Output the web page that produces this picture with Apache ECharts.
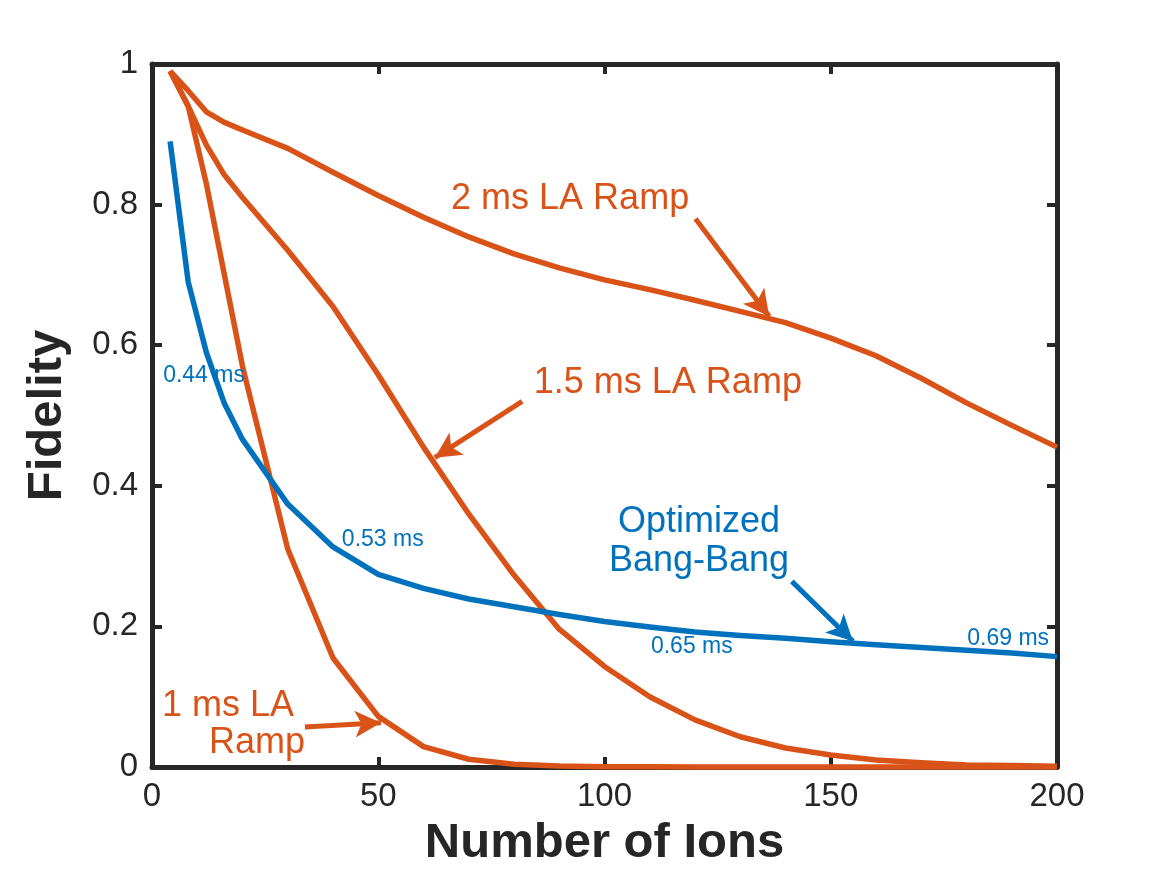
<!DOCTYPE html>
<html>
<head>
<meta charset="utf-8">
<title>Fidelity vs Number of Ions</title>
<script src="https://cdn.jsdelivr.net/npm/echarts@6/dist/echarts.min.js"></script>
<style>
  html, body { margin: 0; padding: 0; background: #fff; }
  #chart { width: 1167px; height: 875px; }
</style>
</head>
<body>
<div id="chart"></div>
<script>
// number of ions (x values shared by every curve)
const ions = [4, 8, 12, 16, 20, 30, 40, 50, 60, 70, 80, 90, 100, 110, 120, 130, 140, 150, 160, 170, 180, 190, 200];

// fidelity
const ramp2ms = [0.99, 0.962, 0.932, 0.917, 0.906, 0.880, 0.846, 0.813, 0.782, 0.754, 0.730, 0.710, 0.693, 0.679, 0.664, 0.648, 0.632, 0.610, 0.585, 0.553, 0.518, 0.486, 0.455];
const ramp15ms = [0.99, 0.94, 0.885, 0.842, 0.810, 0.735, 0.655, 0.558, 0.455, 0.360, 0.273, 0.196, 0.143, 0.100, 0.067, 0.043, 0.027, 0.017, 0.010, 0.006, 0.003, 0.002, 0.001];
const ramp1ms = [0.99, 0.94, 0.83, 0.70, 0.57, 0.31, 0.155, 0.072, 0.029, 0.011, 0.004, 0.0015, 0.0005, 0.0002, 0.0001, 0, 0, 0, 0, 0, 0, 0, 0];
const bangBang = [0.89, 0.69, 0.59, 0.517, 0.466, 0.374, 0.313, 0.274, 0.254, 0.239, 0.228, 0.217, 0.207, 0.199, 0.192, 0.187, 0.183, 0.178, 0.174, 0.170, 0.166, 0.162, 0.157];

const xTicks = [0, 50, 100, 150, 200];
const yTicks = [0, 0.2, 0.4, 0.6, 0.8, 1];

const ORANGE = '#D95319';
const BLUE = '#0072BD';
const AXIS = '#262626';
const FONT = '"Liberation Sans", Arial, Helvetica, sans-serif';

// annotation text, placed in data coordinates
const notes = [
  { text: '2 ms LA Ramp', at: [92.4, 0.808], color: ORANGE, size: 36 },
  { text: '1.5 ms LA Ramp', at: [114.0, 0.546], color: ORANGE, size: 36 },
  { text: 'Optimized\nBang-Bang', at: [120.9, 0.320], color: BLUE, size: 36 },
  { text: '1 ms LA', at: [16.8, 0.086], color: ORANGE, size: 36 },
  { text: 'Ramp', at: [23.2, 0.034], color: ORANGE, size: 36 },
  { text: '0.44 ms', at: [11.5, 0.557], color: BLUE, size: 23 },
  { text: '0.53 ms', at: [51.0, 0.324], color: BLUE, size: 23 },
  { text: '0.65 ms', at: [119.3, 0.1715], color: BLUE, size: 23 },
  { text: '0.69 ms', at: [189.2, 0.183], color: BLUE, size: 23 }
];

// arrows: [from, to] in data coordinates
const arrows = [
  { from: [120.1, 0.780], to: [136.4, 0.641], color: ORANGE },
  { from: [81.8, 0.520], to: [62.5, 0.440], color: ORANGE },
  { from: [141.4, 0.264], to: [154.9, 0.179], color: BLUE },
  { from: [33.8, 0.057], to: [50.6, 0.063], color: ORANGE }
];

function pairs(ys) {
  return ions.map((x, i) => [x, ys[i]]);
}

function curve(name, ys, color) {
  return {
    name: name,
    type: 'line',
    data: pairs(ys),
    showSymbol: false,
    symbol: 'none',
    clip: false,
    lineStyle: { color: color, width: 5.5, cap: 'butt', join: 'round' },
    itemStyle: { color: color },
    emphasis: { disabled: true },
    z: 3
  };
}

const axisCommonX = {
  type: 'value', min: 0, max: 200, interval: 50,
  axisLine: { show: true, onZero: false, lineStyle: { color: AXIS, width: 5 } },
  axisTick: { show: true, inside: true, length: 10, lineStyle: { color: AXIS, width: 4 } },
  splitLine: { show: false }
};
const axisCommonY = {
  type: 'value', min: 0, max: 1, interval: 0.2,
  axisLine: { show: true, onZero: false, lineStyle: { color: AXIS, width: 5 } },
  axisTick: { show: true, inside: true, length: 10, lineStyle: { color: AXIS, width: 4 } },
  splitLine: { show: false }
};

const option = {
  animation: false,
  backgroundColor: '#ffffff',
  grid: { left: 152, right: 110, top: 64, bottom: 108 },
  xAxis: [
    Object.assign({}, axisCommonX, {
      position: 'bottom',
      name: 'Number of Ions',
      nameLocation: 'middle',
      nameGap: 52,
      nameTextStyle: { fontFamily: FONT, fontWeight: 'bold', fontSize: 49, color: AXIS },
      axisLabel: {
        margin: 13, fontFamily: FONT, fontSize: 33, color: AXIS,
        customValues: xTicks
      }
    }),
    Object.assign({}, axisCommonX, {
      position: 'top',
      axisLabel: { show: false }
    })
  ],
  yAxis: [
    Object.assign({}, axisCommonY, {
      position: 'left',
      name: 'Fidelity',
      nameLocation: 'middle',
      nameGap: 80,
      nameTextStyle: { fontFamily: FONT, fontWeight: 'bold', fontSize: 49, color: AXIS },
      axisLabel: {
        margin: 14, fontFamily: FONT, fontSize: 33, color: AXIS,
        customValues: yTicks,
        formatter: v => String(+v.toFixed(1))
      }
    }),
    Object.assign({}, axisCommonY, {
      position: 'right',
      axisLabel: { show: false }
    })
  ],
  series: [
    curve('2 ms LA Ramp', ramp2ms, ORANGE),
    curve('1.5 ms LA Ramp', ramp15ms, ORANGE),
    curve('1 ms LA Ramp', ramp1ms, ORANGE),
    curve('Optimized Bang-Bang', bangBang, BLUE),
    {
      // arrows pointing at the curves
      type: 'line',
      data: [],
      silent: true,
      markLine: {
        silent: true,
        animation: false,
        symbol: ['none', 'arrow'],
        symbolSize: [20, 26],
        label: { show: false },
        emphasis: { disabled: true },
        data: arrows.map(a => [
          { coord: a.from, lineStyle: { color: a.color, width: 5, type: 'solid' }, itemStyle: { color: a.color } },
          { coord: a.to }
        ])
      }
    },
    {
      // text labels
      type: 'scatter',
      silent: true,
      symbolSize: 1,
      itemStyle: { color: 'rgba(0,0,0,0)' },
      data: notes.map(n => ({
        value: n.at,
        label: {
          show: true,
          position: 'inside',
          formatter: n.text,
          color: n.color,
          opacity: 1,
          textBorderWidth: 0,
          textBorderColor: 'transparent',
          textShadowBlur: 0,
          fontSize: n.size,
          fontFamily: FONT,
          lineHeight: Math.round(n.size * 1.08),
          align: 'center',
          verticalAlign: 'middle'
        }
      })),
      z: 5
    }
  ]
};

const chart = echarts.init(document.getElementById('chart'), null, { renderer: 'canvas' });
chart.setOption(option);
</script>
</body>
</html>
